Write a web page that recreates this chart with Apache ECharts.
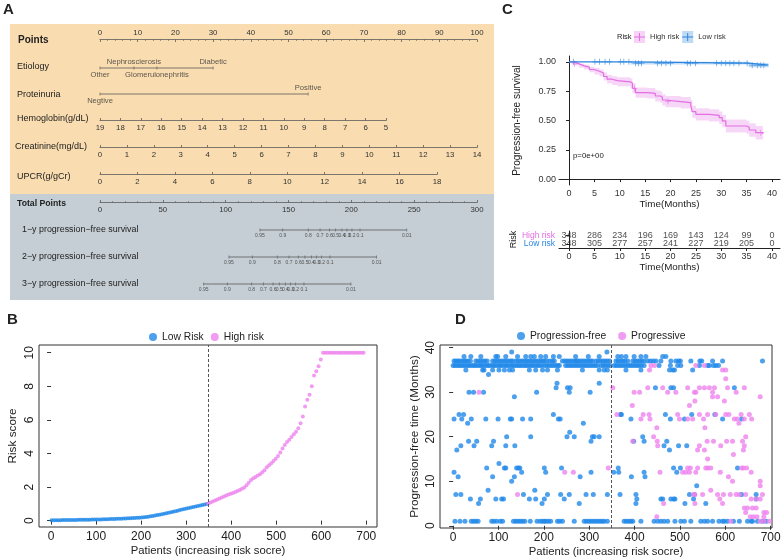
<!DOCTYPE html>
<html><head><meta charset="utf-8">
<script src="https://cdn.jsdelivr.net/npm/echarts@6/dist/echarts.min.js"></script>
<style>html,body{margin:0;padding:0;background:#fff}#c{width:784px;height:560px}</style>
</head><body><div id="c"></div><script>
const FONT = '"Liberation Sans", Arial, Helvetica, sans-serif';
const BLUE = '#1F88E8';
const PINK = '#EE82EE';
const KM_BLUE = '#2C86DF';
const KM_PINK = '#E46EE4';
const AX = '#5c5c5c';
const TXT = '#222';

// ---------- Panel A: nomogram ----------
const pointsTicks = [0,10,20,30,40,50,60,70,80,90,100];
const etiologyNames = ['Other','Nephrosclerosis','Glomerulonephritis','Diabetic'];
const etiologyPoints = [0, 9, 15.1, 30];
const proteinuriaNames = ['Negtive','Positive'];
const proteinuriaPoints = [0, 55.2];
const hemoglobinTicks = [19,18,17,16,15,14,13,12,11,10,9,8,7,6,5];
const creatinineTicks = [0,1,2,3,4,5,6,7,8,9,10,11,12,13,14];
const upcrTicks = [0,2,4,6,8,10,12,14,16,18];
const totalPointsTicks = [0,50,100,150,200,250,300];
const survivalTickLabels = ['0.95','0.9','0.8','0.7','0.6','0.5','0.4','0.3','0.2','0.1','0.01'];
const surv1yTotalPoints = [127.3,145.4,165.7,175.1,182.5,187.5,192.5,196.5,200.5,206.9,244.1];
const surv2yTotalPoints = [102.6,121.2,141.1,150.4,157.8,163.1,168.2,172.4,176.4,183.0,220.1];
const surv3yTotalPoints = [82.5,101.3,120.7,130.0,137.7,142.7,147.5,151.7,155.7,162.3,199.7];

// ---------- Panel C: Kaplan-Meier ----------
const highRiskTime  = [0,1,2,3,4,5,6,6.8,7.5,8.5,9.5,12.1,12.5,13.1,15.4,17,18,18.4,19,22,24,24.3,25,27.6,29.6,30.2,30.9,35,35.5,36.8,38.2];
const highRiskSurv  = [1,0.983,0.966,0.955,0.935,0.92,0.905,0.875,0.852,0.84,0.83,0.818,0.775,0.738,0.732,0.709,0.698,0.675,0.661,0.652,0.624,0.575,0.553,0.544,0.524,0.496,0.453,0.442,0.419,0.396,0.385];
const highRiskLower = [1,0.971,0.949,0.935,0.911,0.893,0.875,0.841,0.815,0.802,0.791,0.778,0.733,0.694,0.687,0.663,0.651,0.627,0.613,0.603,0.574,0.524,0.501,0.492,0.471,0.442,0.398,0.386,0.362,0.338,0.327];
const highRiskUpper = [1,0.995,0.983,0.975,0.959,0.947,0.935,0.909,0.889,0.878,0.869,0.858,0.817,0.782,0.777,0.755,0.745,0.723,0.709,0.701,0.674,0.626,0.605,0.596,0.577,0.550,0.508,0.498,0.476,0.454,0.443];
const lowRiskTime  = [0,12.1,35.4,39.3];
const lowRiskSurv  = [1,0.989,0.972,0.972];
const lowRiskLower = [1,0.978,0.955,0.955];
const lowRiskUpper = [1,1,0.99,0.99];
const lowRiskCensorTime = [0.9,5.1,6.0,7.1,8.0,10.1,10.8,11.8,13.1,13.7,14.3,17.4,18.2,19.1,20.0,23.3,23.9,24.9,29.1,30.0,30.9,31.7,32.5,33.5,35.1,36.1,37.1,37.8,38.4];
const highRiskCensorTime = [1.1,12.9,19.5,37.8];
const kmTimeTicks = [0,5,10,15,20,25,30,35,40];
const kmSurvTicks = [0,0.25,0.5,0.75,1];
const tableTimes = [0,5,10,15,20,25,30,35,40];
const highRiskAtRisk = [348,286,234,196,169,143,124,99,0];
const lowRiskAtRisk  = [348,305,277,257,241,227,219,205,0];

// ---------- Panel B: risk score ----------
const lowRiskIdx = [1,6,11,16,21,26,31,36,41,46,51,56,61,66,71,76,81,86,91,96,101,106,111,116,121,126,131,136,141,146,151,156,161,166,171,176,181,186,191,196,201,206,211,216,221,226,231,236,241,246,251,256,261,266,271,276,281,286,291,296,301,306,311,316,321,326,331,336,341,346];
const lowRiskScore = [0.02,0.02,0.02,0.025,0.025,0.03,0.03,0.03,0.035,0.035,0.04,0.04,0.045,0.045,0.05,0.05,0.055,0.055,0.06,0.06,0.065,0.07,0.07,0.075,0.08,0.085,0.09,0.095,0.1,0.105,0.11,0.115,0.12,0.13,0.135,0.14,0.15,0.155,0.165,0.175,0.185,0.2,0.215,0.235,0.26,0.28,0.3,0.33,0.35,0.38,0.41,0.44,0.47,0.5,0.53,0.56,0.59,0.63,0.66,0.69,0.72,0.75,0.78,0.81,0.84,0.87,0.9,0.93,0.96,0.99];
const highRiskIdx = [349,354,359,364,369,374,379,384,389,394,399,404,409,414,419,424,429,434,439,444,449,454,459,464,469,474,479,484,489,494,499,504,509,514,519,524,529,534,539,544,549,554,559,564,569,574,579,584,589,594,599,604,609,614,619,624,629,634,639,644,649,654,659,664,669,674,679,684,689,694];
const highRiskScore = [1.02,1.08,1.14,1.2,1.26,1.32,1.38,1.44,1.5,1.55,1.6,1.65,1.7,1.76,1.82,1.9,1.98,2.1,2.25,2.42,2.53,2.6,2.68,2.76,2.88,3.0,3.18,3.3,3.42,3.55,3.68,3.85,4.05,4.3,4.5,4.68,4.82,4.98,5.15,5.3,5.5,5.8,6.2,6.8,7.2,7.5,8.0,8.65,8.9,9.2,9.6,10,10,10,10,10,10,10,10,10,10,10,10,10,10,10,10,10,10,10];
const bXTicks = [0,100,200,300,400,500,600,700];
const bYTicks = [0,2,4,6,8,10];
const cutoffPatient = 348;

// ---------- Panel D: progression-free time ----------
// rows: [time (months), [patient ranks]]
const progressionFreeRows = [
 [39,[129,339]],
 [38,[24,39,61,94,98,116,142,160,171,179,193,204,221,234,270,298,322,363,371,381,399,414,425,462,469]],
 [37,[2,6,10,14,19,24,28,33,38,50,55,60,65,70,75,87,92,97,102,107,112,117,122,127,131,138,143,148,153,158,163,168,173,178,183,188,193,198,201,207,213,219,223,241,246,251,256,261,266,271,274,278,283,288,293,298,303,307,315,320,325,330,335,340,345,359,364,369,374,379,385,396,401,406,411,416,421,429,435,441,447,458,480,491,497,501,524,544,548,572,594,682]],
 [36,[0,4,9,13,18,22,27,32,36,41,46,50,55,60,64,69,74,78,83,88,92,97,102,106,111,116,120,125,130,134,139,144,148,153,158,162,167,172,176,181,186,190,195,201,206,211,216,221,226,231,234,248,253,258,263,268,273,278,283,288,293,298,303,308,313,318,326,331,336,341,346,355,360,365,370,375,380,385,390,395,400,405,410,415,421,454,479,495,502,543,561,565,574,579,585]],
 [35,[28,65,68,87,101,113,124,131,168,182,197,208,230,285,322,333,340,381,414,477,484,488,528]],
 [34,[78]],
 [32,[229,322]],
 [31,[227,252,258,446,480,486,620]],
 [30,[35,45,67,184,256,302]],
 [29,[135]],
 [25,[13,23,221,369,371,468,526,577]],
 [24,[2,19,40,72,99,126,129,153,171,232,236,392,479,510,594,636]],
 [23,[32,287]],
 [21,[257]],
 [20,[118,171,251,267,307,311,322,418]],
 [19,[34,52,89,304,398,421,471]],
 [18,[17,46,85,116,136,465,497,515]],
 [17,[8,477]],
 [14,[101]],
 [13,[74,113,116,140,144,147,201,239,364,486,501,627]],
 [12,[2,151,204,304,354,365,421,493]],
 [11,[11,87,135,280,393,423]],
 [10,[129]],
 [9,[537]],
 [8,[77,180]],
 [7,[6,17,155,208,237,256,293,309,340,368,403,521,532,636,668]],
 [6,[38,60,94,107,111,168,182,201,245,405,458,462,480,486,489,530,668]],
 [5,[56,196,278,403,511,557]],
 [1,[4,15,26,40,45,50,55,85,90,96,104,109,133,138,143,148,153,158,170,185,192,197,201,205,210,215,230,235,241,267,289,294,299,304,309,314,319,324,329,333,340,377,382,387,392,396,414,443,451,458,465,473,489,502,510,524,546,554,561,572,586,594,598,605,618,631,649,657,660,671,682,690]]
];
const progressiveRows = [
 [36,[436,444,535,554]],
 [35,[433,594,601]],
 [33,[601]],
 [31,[352,429,462,517,543,554,565,576,605,642]],
 [30,[57,399,411,473,491,532,535,572,624]],
 [29,[572,583,677]],
 [28,[533,598]],
 [27,[395,521]],
 [25,[361,419,432,495,543,561,579,601,608,635,653]],
 [24,[414,434,499,517,528,552,620,626,642,658]],
 [23,[630]],
 [22,[449,555]],
 [20,[442,645]],
 [19,[396,450,560,574,603,616,638]],
 [18,[451,543,590,642]],
 [17,[539,554,640]],
 [16,[618]],
 [15,[561]],
 [13,[342,517,523,539,557,562,568,636,640,647]],
 [12,[246,265,456,506,513,521,535,589,657]],
 [11,[607]],
 [10,[616,677]],
 [9,[677]],
 [8,[568]],
 [7,[142,530,533,550,583,596,611,624,631,645,682]],
 [6,[588,657,668,677]],
 [5,[464,533,594]],
 [4,[642,649,660,668]],
 [3,[645,685,691]],
 [2,[449,655,662,670,685]],
 [1,[612,677,685,697]]
];
const dXTicks = [0,100,200,300,400,500,600,700];
const dYTicks = [0,10,20,30,40];

// ================== build option ==================
const grid = [], xAxis = [], yAxis = [], series = [];
function add(g, xa, ya) {
  const i = grid.length;
  grid.push(g);
  xAxis.push(Object.assign({gridIndex: i}, xa));
  yAxis.push(Object.assign({gridIndex: i}, ya));
  return i;
}
const hiddenY = {type: 'value', show: false, min: -1, max: 1};
const nomoLine = {show: true, lineStyle: {color: AX, width: 0.8}};
const nomoTick = {show: true, inside: true, length: 2.5, lineStyle: {color: AX, width: 0.8}};
const nomoLabel = {fontSize: 7.8, color: '#333', fontFamily: FONT, margin: 3, hideOverlap: false};

// Points axis (labels above)
add({left: 100, width: 377, top: 39, height: 1},
  {type: 'value', position: 'top', min: 0, max: 100, interval: 10, axisLine: nomoLine, axisTick: nomoTick,
   minorTick: {show: true, splitNumber: 5, length: 1.5, lineStyle: {color: AX, width: 0.6}},
   axisLabel: Object.assign({customValues: pointsTicks}, nomoLabel, {margin: 2}), splitLine: {show: false}}, hiddenY);

function nomoAxis(lineY, left, width, min, max, ticks, inverse, interval, minorSplit) {
  const xa = {type: 'value', position: 'bottom', min, max, inverse: !!inverse, axisLine: nomoLine,
    axisTick: Object.assign({}, nomoTick, interval ? {} : {customValues: ticks}),
    axisLabel: Object.assign({customValues: ticks}, nomoLabel), splitLine: {show: false}};
  if (interval) xa.interval = interval;
  if (minorSplit) xa.minorTick = {show: true, splitNumber: minorSplit, length: 1.5, lineStyle: {color: AX, width: 0.6}};
  add({left, width, top: lineY - 1, height: 1}, xa, hiddenY);
}
nomoAxis(121, 100, 286, 5, 19, hemoglobinTicks, true);
nomoAxis(148, 100, 377, 0, 14, creatinineTicks, false);
nomoAxis(175, 100, 337, 0, 18, upcrTicks, false);
nomoAxis(203, 100, 377, 0, 300, totalPointsTicks, false, 50, 5);

function labelledRow(lineY, xMax, names, pos, fontSize, alternate, distTop, distBottom) {
  const gi = add({left: 100, width: 377, top: lineY - 10, height: 20},
    {type: 'value', show: false, min: 0, max: xMax}, {type: 'value', show: false, min: -1, max: 1});
  series.push({type: 'line', xAxisIndex: gi, yAxisIndex: gi, silent: true, symbol: 'none',
    data: [[Math.min(...pos), 0], [Math.max(...pos), 0]], lineStyle: {color: AX, width: 0.8}});
  series.push({type: 'scatter', xAxisIndex: gi, yAxisIndex: gi, silent: true, symbol: 'rect', symbolSize: [0.8, 3],
    itemStyle: {color: AX},
    data: pos.map((p, i) => {
      const top = alternate && i % 2 === 1;
      return {value: [p, 0], label: {show: true, formatter: names[i], position: top ? 'top' : 'bottom',
        distance: top ? distTop : distBottom, fontSize, color: '#333', fontFamily: FONT}};
    })});
}
labelledRow(68, 100, etiologyNames, etiologyPoints, 7.6, true, 1, 1.5);
labelledRow(94, 100, proteinuriaNames, proteinuriaPoints, 7.6, true, 1, 1.5);
labelledRow(230, 300, survivalTickLabels, surv1yTotalPoints, 5, false, 1, 2);
labelledRow(257, 300, survivalTickLabels, surv2yTotalPoints, 5, false, 1, 2);
labelledRow(284, 300, survivalTickLabels, surv3yTotalPoints, 5, false, 1, 2);

// ---------- Panel C ----------
function survAt(times, surv, t) { let s = surv[0]; for (let i = 0; i < times.length; i++) if (times[i] <= t) s = surv[i]; return s; }
const kmAxisLine = {show: true, lineStyle: {color: '#222', width: 1}};
const kmTick = {show: true, length: 3, lineStyle: {color: '#222'}};
const gC = add({left: 559, width: 221, top: 56, height: 129},
  {type: 'value', min: -1.98, max: 41.58, axisLine: kmAxisLine, axisTick: Object.assign({customValues: kmTimeTicks}, kmTick),
   axisLabel: {customValues: kmTimeTicks, fontSize: 9, color: '#333', margin: 4, hideOverlap: false}, splitLine: {show: false},
   name: 'Time(Months)', nameLocation: 'middle', nameGap: 14, nameTextStyle: {fontSize: 9.8, color: TXT}},
  {type: 'value', min: -0.05, max: 1.05, axisLine: kmAxisLine, axisTick: Object.assign({customValues: kmSurvTicks}, kmTick),
   axisLabel: {customValues: kmSurvTicks, fontSize: 9, color: '#333', margin: 3, formatter: v => v.toFixed(2), hideOverlap: false},
   splitLine: {show: false}, name: 'Progression-free survival', nameLocation: 'middle', nameRotate: 90, nameGap: 37,
   nameTextStyle: {fontSize: 10, color: TXT}});
// confidence bands: one step polygon per group, drawn through the axes' coordinate transform
function band(times, lower, upper, color) {
  series.push({type: 'custom', xAxisIndex: gC, yAxisIndex: gC, silent: true, z: 1,
    data: times.map((t, i) => [t, lower[i], upper[i]]),
    renderItem: (params, api) => {
      if (params.dataIndex !== 0) return null;
      const top = [], bottom = [];
      for (let i = 0; i < times.length; i++) {
        const tNext = i < times.length - 1 ? times[i + 1] : times[i];
        top.push(api.coord([times[i], upper[i]]), api.coord([tNext, upper[i]]));
        bottom.push(api.coord([times[i], lower[i]]), api.coord([tNext, lower[i]]));
      }
      return {type: 'polygon', shape: {points: top.concat(bottom.reverse())}, style: {fill: color, opacity: 0.28}};
    }});
}
band(highRiskTime, highRiskLower, highRiskUpper, KM_PINK);
band(lowRiskTime, lowRiskLower, lowRiskUpper, KM_BLUE);
const plusPath = 'path://M-0.6,-5 H0.6 V-0.6 H5 V0.6 H0.6 V5 H-0.6 V0.6 H-5 V-0.6 H-0.6 Z';
series.push({type: 'line', name: 'High risk', xAxisIndex: gC, yAxisIndex: gC, step: 'end', symbol: 'none',
  data: highRiskTime.map((t, i) => [t, highRiskSurv[i]]), lineStyle: {color: KM_PINK, width: 1.2}, itemStyle: {color: KM_PINK}});
series.push({type: 'line', name: 'Low risk', xAxisIndex: gC, yAxisIndex: gC, step: 'end', symbol: 'none',
  data: lowRiskTime.map((t, i) => [t, lowRiskSurv[i]]), lineStyle: {color: KM_BLUE, width: 1.2}, itemStyle: {color: KM_BLUE}});
series.push({type: 'scatter', xAxisIndex: gC, yAxisIndex: gC, symbol: plusPath, symbolSize: 6, silent: true,
  data: highRiskCensorTime.map(t => [t, survAt(highRiskTime, highRiskSurv, t)]), itemStyle: {color: KM_PINK}});
series.push({type: 'scatter', xAxisIndex: gC, yAxisIndex: gC, symbol: plusPath, symbolSize: 6, silent: true,
  data: lowRiskCensorTime.map(t => [t, survAt(lowRiskTime, lowRiskSurv, t)]), itemStyle: {color: KM_BLUE}});

// Risk table
const gT = add({left: 559, width: 221, top: 231, height: 17},
  {type: 'value', min: -1.98, max: 41.58, axisLine: kmAxisLine, axisTick: Object.assign({customValues: kmTimeTicks}, kmTick),
   axisLabel: {customValues: kmTimeTicks, fontSize: 9, color: '#333', margin: 4, hideOverlap: false}, splitLine: {show: false},
   name: 'Time(Months)', nameLocation: 'middle', nameGap: 13, nameTextStyle: {fontSize: 9.8, color: TXT}},
  {type: 'category', data: [{value: 'Low risk', textStyle: {color: KM_BLUE}}, {value: 'High risk', textStyle: {color: KM_PINK}}],
   axisLine: kmAxisLine, axisTick: {show: true, length: 3, alignWithLabel: true, interval: 0, lineStyle: {color: '#222'}},
   axisLabel: {fontSize: 8.5, margin: 4, interval: 0, hideOverlap: false}, name: 'Risk', nameLocation: 'middle', nameRotate: 90, nameGap: 37,
   nameTextStyle: {fontSize: 9, color: TXT}});
function tableRow(cat, nums) {
  series.push({type: 'scatter', xAxisIndex: gT, yAxisIndex: gT, symbolSize: 1, silent: true, itemStyle: {color: 'transparent'},
    data: tableTimes.map((t, i) => [t, cat, nums[i]]),
    label: {show: true, position: 'inside', formatter: p => String(p.value[2]), fontSize: 9, color: TXT, fontFamily: FONT}});
}
tableRow('High risk', highRiskAtRisk);
tableRow('Low risk', lowRiskAtRisk);

// ---------- Panel B ----------
const boxGrid = {show: true, borderColor: '#333', borderWidth: 1, backgroundColor: 'transparent'};
const rTick = {show: true, length: 4, lineStyle: {color: '#333'}};
const gB = add(Object.assign({left: 39, width: 338, top: 345, height: 182}, boxGrid),
  {type: 'value', min: -26.8, max: 723.8, axisLine: {show: false}, axisTick: Object.assign({customValues: bXTicks}, rTick),
   axisLabel: {customValues: bXTicks, fontSize: 12, color: TXT, margin: 4, hideOverlap: false}, splitLine: {show: false},
   name: 'Patients (increasing risk socre)', nameLocation: 'middle', nameGap: 18, nameTextStyle: {fontSize: 11.3, color: TXT}},
  {type: 'value', min: -0.38, max: 10.46, axisLine: {show: false}, axisTick: Object.assign({customValues: bYTicks}, rTick),
   axisLabel: {customValues: bYTicks, fontSize: 12, color: TXT, margin: 3, rotate: 90, hideOverlap: false}, splitLine: {show: false},
   name: 'Risk score', nameLocation: 'middle', nameRotate: 90, nameGap: 20, nameTextStyle: {fontSize: 11.8, color: TXT}});
series.push({type: 'scatter', name: 'Low Risk', xAxisIndex: gB, yAxisIndex: gB, symbolSize: 4, itemStyle: {color: BLUE},
  data: lowRiskIdx.map((p, i) => [p, lowRiskScore[i]]),
  markLine: {silent: true, symbol: 'none', label: {show: false}, lineStyle: {type: [3, 2], color: '#555', width: 1},
    data: [{xAxis: cutoffPatient}]}});
series.push({type: 'scatter', name: 'High risk ', xAxisIndex: gB, yAxisIndex: gB, symbolSize: 4, itemStyle: {color: PINK},
  data: highRiskIdx.map((p, i) => [p, highRiskScore[i]])});

// ---------- Panel D ----------
function expandRows(rows) { const out = []; rows.forEach(([t, ps]) => ps.forEach(p => out.push([p, t]))); return out; }
const gD = add(Object.assign({left: 440, width: 332, top: 345, height: 183}, boxGrid),
  {type: 'value', min: -29, max: 703, axisLine: {show: false}, axisTick: Object.assign({customValues: dXTicks}, rTick),
   axisLabel: {customValues: dXTicks, fontSize: 12, color: TXT, margin: 4, hideOverlap: false}, splitLine: {show: false},
   name: 'Patients (increasing risk socre)', nameLocation: 'middle', nameGap: 18, nameTextStyle: {fontSize: 11.3, color: TXT}},
  {type: 'value', min: -0.5, max: 40.6, axisLine: {show: false}, axisTick: Object.assign({customValues: dYTicks}, rTick),
   axisLabel: {customValues: dYTicks, fontSize: 12, color: TXT, margin: 3, rotate: 90, hideOverlap: false}, splitLine: {show: false},
   name: 'Progression-free time (Months)', nameLocation: 'middle', nameRotate: 90, nameGap: 19, nameTextStyle: {fontSize: 11.8, color: TXT}});
series.push({type: 'scatter', name: 'Progression-free', xAxisIndex: gD, yAxisIndex: gD, symbolSize: 5, itemStyle: {color: BLUE},
  data: expandRows(progressionFreeRows),
  markLine: {silent: true, symbol: 'none', label: {show: false}, lineStyle: {type: [3, 2], color: '#555', width: 1},
    data: [{xAxis: cutoffPatient}]}});
series.push({type: 'scatter', name: 'Progressive', xAxisIndex: gD, yAxisIndex: gD, symbolSize: 5, itemStyle: {color: PINK},
  data: expandRows(progressiveRows)});

// ---------- legends ----------
const legendText = {fontFamily: FONT, color: TXT};
const legend = [
  {left: 149, top: 332, padding: 0, itemWidth: 8, itemHeight: 8, itemGap: 7, icon: 'circle', selectedMode: false,
   data: ['Low Risk', 'High risk '], textStyle: Object.assign({fontSize: 10.3}, legendText)},
  {left: 517, top: 331, padding: 0, itemWidth: 8, itemHeight: 8, itemGap: 12, icon: 'circle', selectedMode: false,
   data: ['Progression-free', 'Progressive'], textStyle: Object.assign({fontSize: 10.3}, legendText)},
  {left: 634, top: 31, padding: 0, itemWidth: 11, itemHeight: 12, itemGap: 3, icon: 'rect', selectedMode: false,
   data: [{name: 'High risk', itemStyle: {color: 'rgba(228,110,228,0.3)'}}, {name: 'Low risk', itemStyle: {color: 'rgba(44,134,223,0.3)'}}],
   textStyle: {fontSize: 7.5, color: 'rgba(0,0,0,0)', fontFamily: FONT}},
  {left: 634, top: 33, padding: 0, itemWidth: 11, itemHeight: 8, itemGap: 3, selectedMode: false,
   data: [{name: 'High risk', icon: 'path://M0,3.5 H11 V4.5 H0 Z M5,0 H6 V8 H5 Z', itemStyle: {color: KM_PINK}},
          {name: 'Low risk', icon: 'path://M0,3.5 H11 V4.5 H0 Z M5,0 H6 V8 H5 Z', itemStyle: {color: KM_BLUE}}],
   textStyle: {fontSize: 7.5, color: '#333', fontFamily: FONT}}
];

// ---------- graphic: backgrounds & texts ----------
function txt(x, y, text, size, weight) {
  return {type: 'text', x, y, z: 50, style: {text, fontSize: size, fontWeight: weight || 'normal', fontFamily: FONT, fill: TXT, align: 'left', verticalAlign: 'middle'}};
}
const graphic = [
  {type: 'rect', z: -10, shape: {x: 10, y: 24, width: 484, height: 170}, style: {fill: '#F9DCAF'}},
  {type: 'rect', z: -10, shape: {x: 10, y: 194, width: 484, height: 106}, style: {fill: '#C5CED4'}},
  txt(3, 10, 'A', 15, 'bold'), txt(502, 10, 'C', 15, 'bold'), txt(7, 320, 'B', 15, 'bold'), txt(455, 320, 'D', 15, 'bold'),
  txt(18, 40, 'Points', 10, 'bold'),
  txt(17, 67, 'Etiology', 9),
  txt(17, 95, 'Proteinuria', 9),
  txt(17, 119, 'Hemoglobin(g/dL)', 9),
  txt(15, 147, 'Creatinine(mg/dL)', 9),
  txt(17, 177, 'UPCR(g/gCr)', 9),
  txt(17, 204, 'Total Points', 8.7, 'bold'),
  txt(22, 230, '1\u2212y progression\u2212free survival', 8.9),
  txt(22, 257, '2\u2212y progression\u2212free survival', 8.9),
  txt(22, 284, '3\u2212y progression\u2212free survival', 8.9),
  txt(617, 37, 'Risk', 7.5),
  txt(573, 156, 'p=0e+00', 7.8)
];

const chart = echarts.init(document.getElementById('c'), null, {renderer: 'canvas'});
chart.setOption({backgroundColor: '#fff', animation: false, textStyle: {fontFamily: FONT},
  grid, xAxis, yAxis, series, legend, graphic});
</script></body></html>
